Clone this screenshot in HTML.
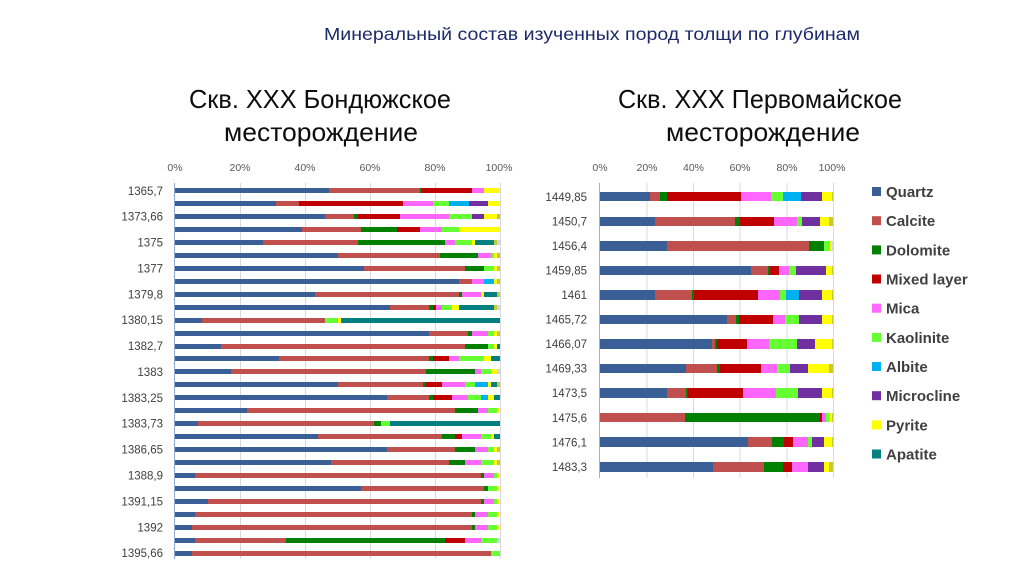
<!DOCTYPE html>
<html><head><meta charset="utf-8">
<style>
html,body{margin:0;padding:0;background:#fff;}
#wrap{position:relative;width:1024px;height:574px;overflow:hidden;background:#fff;font-family:"Liberation Sans",sans-serif;}
svg{position:absolute;left:0;top:0;}
.r{position:absolute;display:flex;height:5px;left:175px;width:325px;}
.R{position:absolute;display:flex;height:9.5px;left:600px;width:233.5px;}
.r i,.R i{display:block;height:100%;flex:none;}
.a{background:#3a5f97}.b{background:#c0504d}.c{background:#008000}.d{background:#c00000}
.e{background:#ff66ff}.f{background:#66ff33}.g{background:#00b0f0}.h{background:#7030a0}
.i{background:#ffff00}.j{background:#008080}.k{background:#c8c832}.l{background:#c6d9e8}
</style></head><body><div id="wrap">
<svg width="1024" height="574" xmlns="http://www.w3.org/2000/svg">
<g stroke="#d9d9d9" stroke-width="1">
<line x1="240.5" y1="183" x2="240.5" y2="559"/><line x1="305.5" y1="183" x2="305.5" y2="559"/>
<line x1="370.5" y1="183" x2="370.5" y2="559"/><line x1="435.5" y1="183" x2="435.5" y2="559"/>
<line x1="500.5" y1="183" x2="500.5" y2="559"/>
<line x1="647" y1="183" x2="647" y2="478"/><line x1="693.5" y1="183" x2="693.5" y2="478"/>
<line x1="740" y1="183" x2="740" y2="478"/><line x1="787" y1="183" x2="787" y2="478"/>
<line x1="833.5" y1="183" x2="833.5" y2="478"/>
</g>
<line x1="174.5" y1="183" x2="174.5" y2="559" stroke="#8eaad6" stroke-width="1"/>
<line x1="599.5" y1="183" x2="599.5" y2="478" stroke="#9fb3cc" stroke-width="1"/>
<text x="324" y="40" font-size="17.5" fill="#1c2a6a" textLength="536" lengthAdjust="spacingAndGlyphs">Минеральный состав изученных пород толщи по глубинам</text>
<text x="189" y="108" font-size="26" fill="#0d0d0d" textLength="262" lengthAdjust="spacingAndGlyphs">Скв. XXX Бондюжское</text>
<text x="224" y="141" font-size="26" fill="#0d0d0d" textLength="194" lengthAdjust="spacingAndGlyphs">месторождение</text>
<text x="618" y="108" font-size="26" fill="#0d0d0d" textLength="284" lengthAdjust="spacingAndGlyphs">Скв. XXX Первомайское</text>
<text x="666" y="141" font-size="26" fill="#0d0d0d" textLength="194" lengthAdjust="spacingAndGlyphs">месторождение</text>
<g font-size="10.5" fill="#595959" text-anchor="middle">
<text x="175" y="171">0%</text><text x="240" y="171">20%</text><text x="305" y="171">40%</text>
<text x="370" y="171">60%</text><text x="435" y="171">80%</text><text x="499" y="171">100%</text>
<text x="600" y="171">0%</text><text x="647" y="171">20%</text><text x="693.5" y="171">40%</text>
<text x="740" y="171">60%</text><text x="787" y="171">80%</text><text x="832" y="171">100%</text>
</g>
<g font-size="11.5" fill="#404040" text-anchor="end">
<text x="163" y="194.8">1365,7</text><text x="163" y="220.7">1373,66</text><text x="163" y="246.6">1375</text>
<text x="163" y="272.4">1377</text><text x="163" y="298.3">1379,8</text><text x="163" y="324.2">1380,15</text>
<text x="163" y="350.1">1382,7</text><text x="163" y="376">1383</text><text x="163" y="401.8">1383,25</text>
<text x="163" y="427.7">1383,73</text><text x="163" y="453.6">1386,65</text><text x="163" y="479.5">1388,9</text>
<text x="163" y="505.4">1391,15</text><text x="163" y="531.3">1392</text><text x="163" y="557.1">1395,66</text>
<text x="587" y="200.8">1449,85</text><text x="587" y="225.4">1450,7</text><text x="587" y="249.9">1456,4</text>
<text x="587" y="274.5">1459,85</text><text x="587" y="299">1461</text><text x="587" y="323.6">1465,72</text>
<text x="587" y="348.1">1466,07</text><text x="587" y="372.7">1469,33</text><text x="587" y="397.2">1473,5</text>
<text x="587" y="421.8">1475,6</text><text x="587" y="446.3">1476,1</text><text x="587" y="470.9">1483,3</text>
</g>
<g>
<rect x="872" y="187" width="9" height="9" fill="#3a5f97"/>
<rect x="872" y="216.2" width="9" height="9" fill="#c0504d"/>
<rect x="872" y="245.4" width="9" height="9" fill="#008000"/>
<rect x="872" y="274.5" width="9" height="9" fill="#c00000"/>
<rect x="872" y="303.7" width="9" height="9" fill="#ff66ff"/>
<rect x="872" y="332.9" width="9" height="9" fill="#66ff33"/>
<rect x="872" y="362" width="9" height="9" fill="#00b0f0"/>
<rect x="872" y="391.2" width="9" height="9" fill="#7030a0"/>
<rect x="872" y="420.4" width="9" height="9" fill="#ffff00"/>
<rect x="872" y="449.5" width="9" height="9" fill="#008080"/>
</g>
<g font-size="15" font-weight="bold" fill="#404040">
<text x="886" y="197">Quartz</text><text x="886" y="226.2">Calcite</text><text x="886" y="255.4">Dolomite</text>
<text x="886" y="284.5">Mixed layer</text><text x="886" y="313.7">Mica</text><text x="886" y="342.9">Kaolinite</text>
<text x="886" y="372">Albite</text><text x="886" y="401.2">Microcline</text><text x="886" y="430.4">Pyrite</text>
<text x="886" y="459.5">Apatite</text>
</g>
</svg>

<div class="r" style="top:188.2px"><i class="a" style="width:47.4%"></i><i class="b" style="width:27.9%"></i><i class="c" style="width:0.8%"></i><i class="d" style="width:15.2%"></i><i class="e" style="width:3.9%"></i><i class="i" style="width:4.8%"></i></div>
<div class="r" style="top:201.1px"><i class="a" style="width:31.2%"></i><i class="b" style="width:7.1%"></i><i class="d" style="width:31.9%"></i><i class="e" style="width:9.1%"></i><i class="f" style="width:4.9%"></i><i class="g" style="width:6.2%"></i><i class="h" style="width:5.8%"></i><i class="i" style="width:3.8%"></i></div>
<div class="r" style="top:214.1px"><i class="a" style="width:46.2%"></i><i class="b" style="width:9%"></i><i class="c" style="width:1%"></i><i class="d" style="width:12.9%"></i><i class="e" style="width:15.1%"></i><i class="f" style="width:7.1%"></i><i class="h" style="width:3.9%"></i><i class="i" style="width:4%"></i><i class="k" style="width:0.8%"></i></div>
<div class="r" style="top:227px"><i class="a" style="width:39.2%"></i><i class="b" style="width:18%"></i><i class="c" style="width:11%"></i><i class="d" style="width:7.1%"></i><i class="e" style="width:6.9%"></i><i class="f" style="width:5.1%"></i><i class="i" style="width:12.7%"></i></div>
<div class="r" style="top:240px"><i class="a" style="width:27.1%"></i><i class="b" style="width:29.1%"></i><i class="c" style="width:27%"></i><i class="e" style="width:3%"></i><i class="f" style="width:5.1%"></i><i class="i" style="width:0.9%"></i><i class="j" style="width:6%"></i><i class="k" style="width:1%"></i><i class="l" style="width:0.8%"></i></div>
<div class="r" style="top:252.9px"><i class="a" style="width:50.2%"></i><i class="b" style="width:31.2%"></i><i class="c" style="width:11.8%"></i><i class="e" style="width:3.9%"></i><i class="f" style="width:1.1%"></i><i class="i" style="width:0.8%"></i><i class="k" style="width:1%"></i></div>
<div class="r" style="top:265.8px"><i class="a" style="width:58.2%"></i><i class="b" style="width:31.1%"></i><i class="c" style="width:5.9%"></i><i class="f" style="width:3%"></i><i class="i" style="width:0.8%"></i><i class="k" style="width:1%"></i></div>
<div class="r" style="top:278.8px"><i class="a" style="width:87.3%"></i><i class="b" style="width:4%"></i><i class="e" style="width:3.9%"></i><i class="g" style="width:3%"></i><i class="i" style="width:0.8%"></i><i class="k" style="width:1%"></i></div>
<div class="r" style="top:291.7px"><i class="a" style="width:43.1%"></i><i class="b" style="width:44.2%"></i><i class="c" style="width:0.9%"></i><i class="e" style="width:5.9%"></i><i class="i" style="width:1%"></i><i class="j" style="width:4.1%"></i><i class="k" style="width:0.8%"></i></div>
<div class="r" style="top:304.7px"><i class="a" style="width:66.2%"></i><i class="b" style="width:12.1%"></i><i class="c" style="width:1%"></i><i class="d" style="width:0.9%"></i><i class="e" style="width:2%"></i><i class="f" style="width:2.9%"></i><i class="i" style="width:2.2%"></i><i class="j" style="width:10.9%"></i><i class="k" style="width:1%"></i><i class="l" style="width:0.8%"></i></div>
<div class="r" style="top:317.6px"><i class="a" style="width:8.2%"></i><i class="b" style="width:38%"></i><i class="f" style="width:4%"></i><i class="i" style="width:1%"></i><i class="j" style="width:48.8%"></i></div>
<div class="r" style="top:330.5px"><i class="a" style="width:78.3%"></i><i class="b" style="width:12%"></i><i class="c" style="width:1%"></i><i class="e" style="width:4.9%"></i><i class="f" style="width:2%"></i><i class="i" style="width:1%"></i><i class="k" style="width:0.8%"></i></div>
<div class="r" style="top:343.5px"><i class="a" style="width:14.2%"></i><i class="b" style="width:75%"></i><i class="c" style="width:7%"></i><i class="f" style="width:2%"></i><i class="i" style="width:1%"></i><i class="j" style="width:0.8%"></i></div>
<div class="r" style="top:356.4px"><i class="a" style="width:32.1%"></i><i class="b" style="width:46.2%"></i><i class="c" style="width:1%"></i><i class="d" style="width:4.9%"></i><i class="e" style="width:3.1%"></i><i class="f" style="width:7.9%"></i><i class="i" style="width:1.9%"></i><i class="j" style="width:2.9%"></i></div>
<div class="r" style="top:369.4px"><i class="a" style="width:17.1%"></i><i class="b" style="width:60.1%"></i><i class="c" style="width:15%"></i><i class="e" style="width:2%"></i><i class="f" style="width:2.9%"></i><i class="i" style="width:2.1%"></i><i class="l" style="width:0.8%"></i></div>
<div class="r" style="top:382.3px"><i class="a" style="width:50.2%"></i><i class="b" style="width:26%"></i><i class="c" style="width:1%"></i><i class="d" style="width:5%"></i><i class="e" style="width:7%"></i><i class="f" style="width:3%"></i><i class="g" style="width:4%"></i><i class="i" style="width:0.9%"></i><i class="j" style="width:2.1%"></i><i class="k" style="width:0.8%"></i></div>
<div class="r" style="top:395.2px"><i class="a" style="width:65.2%"></i><i class="b" style="width:13.1%"></i><i class="c" style="width:1%"></i><i class="d" style="width:5.8%"></i><i class="e" style="width:5.2%"></i><i class="f" style="width:3.9%"></i><i class="g" style="width:2%"></i><i class="i" style="width:2%"></i><i class="j" style="width:1.8%"></i></div>
<div class="r" style="top:408.2px"><i class="a" style="width:22.2%"></i><i class="b" style="width:64.1%"></i><i class="c" style="width:6.9%"></i><i class="e" style="width:3%"></i><i class="f" style="width:3%"></i><i class="i" style="width:0.8%"></i></div>
<div class="r" style="top:421.1px"><i class="a" style="width:7.2%"></i><i class="b" style="width:54%"></i><i class="c" style="width:2.1%"></i><i class="f" style="width:3%"></i><i class="j" style="width:33.7%"></i></div>
<div class="r" style="top:434.1px"><i class="a" style="width:44.1%"></i><i class="b" style="width:38.2%"></i><i class="c" style="width:4%"></i><i class="d" style="width:1.9%"></i><i class="e" style="width:6%"></i><i class="f" style="width:2.9%"></i><i class="i" style="width:1.1%"></i><i class="j" style="width:1.8%"></i></div>
<div class="r" style="top:447px"><i class="a" style="width:65.2%"></i><i class="b" style="width:21.1%"></i><i class="c" style="width:5.9%"></i><i class="e" style="width:4%"></i><i class="f" style="width:2%"></i><i class="i" style="width:1%"></i><i class="k" style="width:0.8%"></i></div>
<div class="r" style="top:459.9px"><i class="a" style="width:48%"></i><i class="b" style="width:36.2%"></i><i class="c" style="width:5%"></i><i class="e" style="width:5%"></i><i class="f" style="width:4%"></i><i class="i" style="width:1%"></i><i class="k" style="width:0.8%"></i></div>
<div class="r" style="top:472.9px"><i class="a" style="width:6.2%"></i><i class="b" style="width:88%"></i><i class="c" style="width:1%"></i><i class="e" style="width:3%"></i><i class="f" style="width:1%"></i><i class="i" style="width:0.8%"></i></div>
<div class="r" style="top:485.8px"><i class="a" style="width:57.1%"></i><i class="b" style="width:38.1%"></i><i class="c" style="width:1%"></i><i class="f" style="width:3%"></i><i class="i" style="width:0.8%"></i></div>
<div class="r" style="top:498.8px"><i class="a" style="width:10.2%"></i><i class="b" style="width:84.1%"></i><i class="c" style="width:0.9%"></i><i class="e" style="width:3%"></i><i class="f" style="width:1%"></i><i class="i" style="width:0.8%"></i></div>
<div class="r" style="top:511.7px"><i class="a" style="width:6.2%"></i><i class="b" style="width:85.1%"></i><i class="c" style="width:0.9%"></i><i class="e" style="width:4%"></i><i class="f" style="width:3%"></i><i class="i" style="width:0.8%"></i></div>
<div class="r" style="top:524.6px"><i class="a" style="width:5.1%"></i><i class="b" style="width:86.2%"></i><i class="c" style="width:0.9%"></i><i class="e" style="width:4%"></i><i class="f" style="width:3%"></i><i class="i" style="width:0.8%"></i></div>
<div class="r" style="top:537.6px"><i class="a" style="width:6.2%"></i><i class="b" style="width:28%"></i><i class="c" style="width:49%"></i><i class="d" style="width:6%"></i><i class="e" style="width:5%"></i><i class="f" style="width:5%"></i><i class="l" style="width:0.8%"></i></div>
<div class="r" style="top:550.5px"><i class="a" style="width:5.1%"></i><i class="b" style="width:92.1%"></i><i class="f" style="width:2.8%"></i></div>

<div class="R" style="top:191.9px"><i class="a" style="width:21.5%"></i><i class="b" style="width:4.3%"></i><i class="c" style="width:2.9%"></i><i class="d" style="width:31.6%"></i><i class="e" style="width:13%"></i><i class="f" style="width:5%"></i><i class="g" style="width:8%"></i><i class="h" style="width:8.8%"></i><i class="i" style="width:4.2%"></i><i class="k" style="width:0.7%"></i></div>
<div class="R" style="top:216.5px"><i class="a" style="width:23.4%"></i><i class="b" style="width:34.5%"></i><i class="c" style="width:2.2%"></i><i class="d" style="width:14.5%"></i><i class="e" style="width:9.7%"></i><i class="f" style="width:2.1%"></i><i class="h" style="width:7.8%"></i><i class="i" style="width:3.9%"></i><i class="k" style="width:1.9%"></i></div>
<div class="R" style="top:241px"><i class="a" style="width:28.7%"></i><i class="b" style="width:60.6%"></i><i class="c" style="width:6.8%"></i><i class="f" style="width:2.2%"></i><i class="i" style="width:1%"></i><i class="l" style="width:0.7%"></i></div>
<div class="R" style="top:265.6px"><i class="a" style="width:64.6%"></i><i class="b" style="width:7.4%"></i><i class="c" style="width:0.9%"></i><i class="d" style="width:3.8%"></i><i class="e" style="width:4.2%"></i><i class="f" style="width:3%"></i><i class="h" style="width:13%"></i><i class="i" style="width:2.4%"></i><i class="k" style="width:0.7%"></i></div>
<div class="R" style="top:290.1px"><i class="a" style="width:23.4%"></i><i class="b" style="width:15.8%"></i><i class="c" style="width:1.2%"></i><i class="d" style="width:27.4%"></i><i class="e" style="width:9.5%"></i><i class="f" style="width:2.2%"></i><i class="g" style="width:5.9%"></i><i class="h" style="width:9.7%"></i><i class="i" style="width:4.2%"></i><i class="k" style="width:0.7%"></i></div>
<div class="R" style="top:314.7px"><i class="a" style="width:54.6%"></i><i class="b" style="width:3.7%"></i><i class="c" style="width:1.3%"></i><i class="d" style="width:14.7%"></i><i class="e" style="width:5%"></i><i class="f" style="width:6%"></i><i class="h" style="width:9.8%"></i><i class="i" style="width:4.2%"></i><i class="k" style="width:0.7%"></i></div>
<div class="R" style="top:339.2px"><i class="a" style="width:48.1%"></i><i class="b" style="width:1%"></i><i class="c" style="width:1%"></i><i class="d" style="width:12.8%"></i><i class="e" style="width:9.7%"></i><i class="f" style="width:11.9%"></i><i class="h" style="width:7.8%"></i><i class="i" style="width:7%"></i><i class="k" style="width:0.7%"></i></div>
<div class="R" style="top:363.8px"><i class="a" style="width:36.9%"></i><i class="b" style="width:13.2%"></i><i class="c" style="width:1.1%"></i><i class="d" style="width:17.7%"></i><i class="e" style="width:7.1%"></i><i class="f" style="width:5.2%"></i><i class="h" style="width:7.8%"></i><i class="i" style="width:9.1%"></i><i class="k" style="width:1.9%"></i></div>
<div class="R" style="top:388.3px"><i class="a" style="width:28.5%"></i><i class="b" style="width:8.4%"></i><i class="c" style="width:0.9%"></i><i class="d" style="width:23.4%"></i><i class="e" style="width:14.3%"></i><i class="f" style="width:9.4%"></i><i class="h" style="width:10.2%"></i><i class="i" style="width:4.2%"></i><i class="k" style="width:0.7%"></i></div>
<div class="R" style="top:412.9px"><i class="b" style="width:36.4%"></i><i class="c" style="width:57.8%"></i><i class="d" style="width:0.9%"></i><i class="e" style="width:1.9%"></i><i class="f" style="width:1.3%"></i><i class="i" style="width:1%"></i><i class="k" style="width:0.7%"></i></div>
<div class="R" style="top:437.4px"><i class="a" style="width:63.3%"></i><i class="b" style="width:10.3%"></i><i class="c" style="width:5.1%"></i><i class="d" style="width:4%"></i><i class="e" style="width:6.2%"></i><i class="f" style="width:2%"></i><i class="h" style="width:5.1%"></i><i class="i" style="width:3.3%"></i><i class="k" style="width:0.7%"></i></div>
<div class="R" style="top:462px"><i class="a" style="width:48.5%"></i><i class="b" style="width:21.8%"></i><i class="c" style="width:7.9%"></i><i class="d" style="width:4%"></i><i class="e" style="width:7.1%"></i><i class="h" style="width:6.8%"></i><i class="i" style="width:2%"></i><i class="k" style="width:1.9%"></i></div>
</div></body></html>
